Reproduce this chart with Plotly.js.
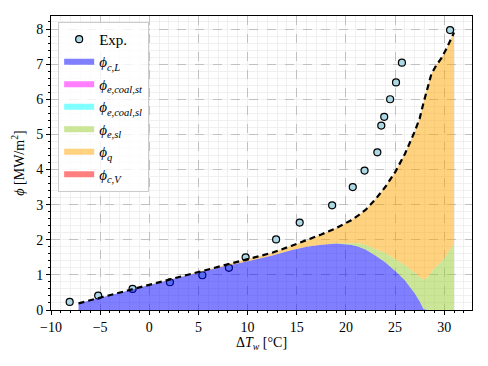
<!DOCTYPE html>
<html>
<head>
<meta charset="utf-8">
<script src="https://cdn.plot.ly/plotly-3.0.1.min.js"></script>
<style>html,body{margin:0;padding:0;background:#fff}#chart{width:488px;height:366px}</style>
</head>
<body>
<div id="chart"></div>
<script>
// Experimental data
const expX = [-8.1, -5.2, -1.7, 2.1, 5.4, 8.1, 9.8, 12.9, 15.3, 18.6, 20.7, 21.9, 23.2, 23.6, 23.9, 24.5, 25.1, 25.7, 30.6];
const expY = [0.23, 0.41, 0.60, 0.79, 0.99, 1.20, 1.50, 2.01, 2.49, 2.98, 3.50, 3.97, 4.49, 5.25, 5.50, 6.00, 6.48, 7.04, 7.97];

// Model grid and components
const dT = [-7.2, -5, -2.5, 0, 2.5, 5, 7.5, 10, 12.5, 14.5, 16, 17.5, 19, 20.5, 21.3, 22, 23, 24, 25, 26, 27, 27.5, 27.9, 28.3, 28.7, 29.2, 29.7, 30.2, 30.6, 31];
const phiCL = [0.19, 0.35, 0.53, 0.71, 0.89, 1.07, 1.24, 1.39, 1.55, 1.71, 1.80, 1.86, 1.89, 1.86, 1.80, 1.72, 1.55, 1.36, 1.12, 0.85, 0.48, 0.25, 0.03, 0, 0, 0, 0, 0, 0, 0];
const phiCoalSt = [0, 0, 0, 0, 0, 0, 0, 0, 0, 0, 0, 0, 0, 0, 0, 0, 0, 0, 0, 0, 0, 0, 0, 0, 0, 0, 0, 0, 0, 0];
const phiCoalSl = [0, 0, 0, 0, 0, 0, 0, 0, 0, 0, 0, 0, 0, 0, 0, 0, 0, 0, 0, 0, 0, 0, 0, 0, 0, 0, 0, 0, 0, 0];
const phiESl = [0, 0, 0, 0, 0, 0, 0, 0, 0, 0, 0, 0, 0.01, 0.04, 0.10, 0.14, 0.19, 0.26, 0.33, 0.43, 0.58, 0.68, 0.84, 0.92, 1.08, 1.25, 1.37, 1.55, 1.72, 1.91];
const phiTotal = [0.19, 0.35, 0.53, 0.72, 0.90, 1.09, 1.27, 1.45, 1.63, 1.83, 1.98, 2.15, 2.33, 2.55, 2.70, 2.85, 3.15, 3.50, 3.92, 4.44, 5.08, 5.45, 5.90, 6.35, 6.72, 6.97, 7.16, 7.42, 7.66, 7.90];
const phiCV = dT.map(() => 0);
const phiQ = phiTotal.map((t, i) => Math.max(0, t - phiCL[i] - phiCoalSt[i] - phiCoalSl[i] - phiESl[i]));

const tickX = [-10, -5, 0, 5, 10, 15, 20, 25, 30];
const tickY = [0, 1, 2, 3, 4, 5, 6, 7, 8];

function area(y, name, color, g) {
  return {x: dT, y: y, name: name, type: 'scatter', mode: 'none', stackgroup: 'one',
          fill: 'tonexty', fillcolor: color, line: {width: 0}, hoverinfo: 'skip', legendgroup: g};
}

const traces = [
  {x: expX, y: expY, name: 'Exp.', type: 'scatter', mode: 'markers', legendgroup: 'g0',
   marker: {size: 7, color: '#add8e6', line: {color: '#000', width: 1.2}}},
  area(phiCL, '<i>ϕ</i><sub><i>c,L</i></sub>', 'rgba(0,0,255,0.5)', 'g1'),
  area(phiCoalSt, '<i>ϕ</i><sub><i>e,coal,st</i></sub>', 'rgba(255,0,255,0.5)', 'g2'),
  area(phiCoalSl, '<i>ϕ</i><sub><i>e,coal,sl</i></sub>', 'rgba(0,255,255,0.5)', 'g3'),
  area(phiESl, '<i>ϕ</i><sub><i>e,sl</i></sub>', 'rgba(154,205,50,0.5)', 'g4'),
  area(phiQ, '<i>ϕ</i><sub><i>q</i></sub>', 'rgba(255,165,0,0.5)', 'g5'),
  area(phiCV, '<i>ϕ</i><sub><i>c,V</i></sub>', 'rgba(255,0,0,0.5)', 'g6'),
  {x: dT, y: phiTotal, type: 'scatter', mode: 'lines', showlegend: false,
   line: {color: '#000', width: 2.2, dash: '6px,4px'}}
];

const font = {family: 'Liberation Serif, DejaVu Serif, serif', size: 14, color: '#000'};

const layout = {
  width: 488, height: 366,
  margin: {l: 51, r: 16, t: 16, b: 56},
  paper_bgcolor: '#fff', plot_bgcolor: '#fff',
  font: font,
  showlegend: true,
  legend: {x: 0.017, y: 0.98, xanchor: 'left', yanchor: 'top',
           bgcolor: 'rgba(255,255,255,0.8)', bordercolor: '#cccccc', borderwidth: 1,
           traceorder: 'grouped', tracegroupgap: 0,
           font: {family: font.family, size: 15, color: '#000'}, itemwidth: 30},
  xaxis: {range: [-10, 32.83], tickvals: tickX, ticktext: tickX.map(v => v < 0 ? '−' + Math.abs(v) : String(v)),
          showline: true, linecolor: '#000', linewidth: 1, mirror: true,
          ticks: 'outside', ticklen: 4, tickcolor: '#000',
          showgrid: true, gridcolor: '#b5b5b5', griddash: 'dash', gridwidth: 0.8,
          zeroline: false,
          minor: {dtick: 1, tick0: 0, ticks: 'outside', ticklen: 2, tickcolor: '#000', showgrid: true, griddash: 'solid', gridcolor: '#ececec', gridwidth: 0.8},
          title: {text: 'Δ<i>T</i><sub><i>w</i></sub> [°C]', font: {family: font.family, size: 14}, standoff: 2}},
  yaxis: {range: [0, 8.37], tickvals: tickY,
          showline: true, linecolor: '#000', linewidth: 1, mirror: true,
          ticks: 'outside', ticklen: 4, tickcolor: '#000',
          showgrid: true, gridcolor: '#b5b5b5', griddash: 'dash', gridwidth: 0.8,
          zeroline: false,
          minor: {dtick: 0.2, tick0: 0, ticks: 'outside', ticklen: 2, tickcolor: '#000', showgrid: true, griddash: 'solid', gridcolor: '#ececec', gridwidth: 0.8},
          title: {text: '<i>ϕ</i> [MW/m<sup>2</sup>]', font: {family: font.family, size: 14}, standoff: 8}}
};

Plotly.newPlot('chart', traces, layout, {displayModeBar: false, staticPlot: true});
</script>
</body>
</html>
